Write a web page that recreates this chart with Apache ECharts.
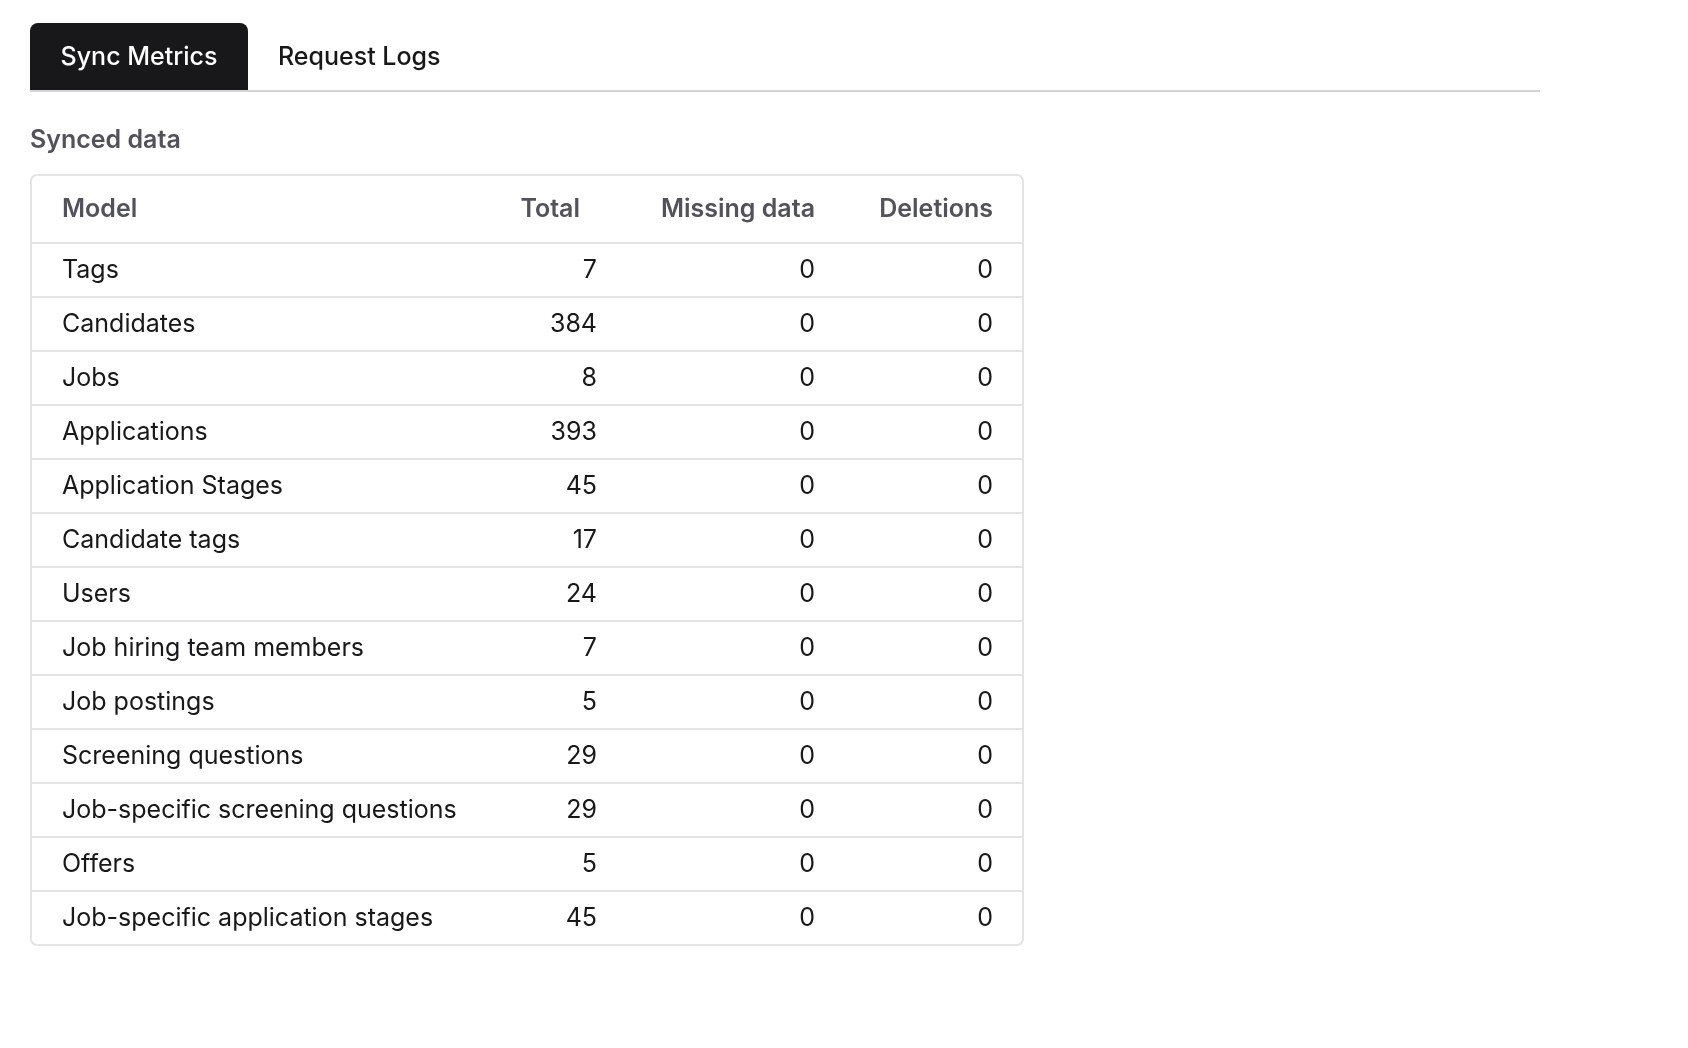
<!DOCTYPE html>
<html><head><meta charset="utf-8">
<script src="https://cdn.jsdelivr.net/npm/echarts@6/dist/echarts.min.js"></script>
<style>html,body{margin:0;background:#fff}#c{width:1688px;height:1048px}</style>
</head><body><div id="c"></div>
<script>
const tabs = ['Sync Metrics', 'Request Logs'];
const sectionTitle = 'Synced data';
const columns = ['Model', 'Total', 'Missing data', 'Deletions'];
const models = ['Tags','Candidates','Jobs','Applications','Application Stages','Candidate tags','Users','Job hiring team members','Job postings','Screening questions','Job-specific screening questions','Offers','Job-specific application stages'];
const totals = [7,384,8,393,45,17,24,7,5,29,29,5,45];
const missing = [0,0,0,0,0,0,0,0,0,0,0,0,0];
const deletions = [0,0,0,0,0,0,0,0,0,0,0,0,0];

(function(){
const F = 'Inter, "Noto Sans", sans-serif';
const els = [];
els.push({type:'rect', shape:{x:30,y:23,width:218,height:67,r:[8,8,0,0]}, style:{fill:'#18181b'}});
els.push({type:'text', x:139, y:57, style:{text:tabs[0], fill:'#fff', font:'500 25px '+F, align:'center', verticalAlign:'middle'}});
els.push({type:'text', x:278, y:57, style:{text:tabs[1], fill:'#18181b', font:'500 25px '+F, verticalAlign:'middle'}});
els.push({type:'rect', shape:{x:30,y:90,width:1510,height:2}, style:{fill:'#d4d4d8'}});
els.push({type:'text', x:30, y:140, style:{text:sectionTitle, fill:'#52525b', font:'600 25px '+F, verticalAlign:'middle'}});
const tableTop=175, headH=68, rowH=54, n=models.length;
els.push({type:'rect', shape:{x:31,y:tableTop,width:992,height:headH+rowH*n,r:6}, style:{fill:'#fff', stroke:'#e4e4e7', lineWidth:2}});
const hx=[62,580,815,993], ha=['left','right','right','right'];
columns.forEach((c,i)=>els.push({type:'text', x:hx[i], y:tableTop+headH/2, style:{text:c, fill:'#52525b', font:'600 25px '+F, align:ha[i], verticalAlign:'middle'}}));
const vx=[62,597,815,993];
for(let r=0;r<n;r++){
  const y0=tableTop+headH+rowH*r;
  els.push({type:'rect', shape:{x:32,y:y0-1,width:990,height:2}, style:{fill:'#e4e4e7'}});
  const vals=[models[r], String(totals[r]), String(missing[r]), String(deletions[r])];
  vals.forEach((v,i)=>els.push({type:'text', x:vx[i], y:y0+rowH/2, style:{text:v, fill:'#18181b', font:'400 25px '+F, align:ha[i], verticalAlign:'middle'}}));
}
const chart = echarts.init(document.getElementById('c'));
chart.setOption({backgroundColor:'#fff', graphic:{elements:els}});
})();
</script></body></html>
